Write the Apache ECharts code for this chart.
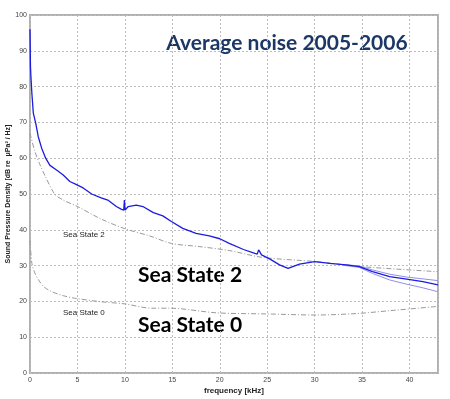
<!DOCTYPE html>
<html><head><meta charset="utf-8">
<script src="https://cdn.jsdelivr.net/npm/echarts@6/dist/echarts.min.js"></script>
<style>html,body{margin:0;padding:0;background:#fff}#c{width:450px;height:399px}</style>
</head><body><div id="c"></div>
<script>
// Measured average noise (blue)
const avgFreq  = [0, 0.02, 0.05, 0.1, 0.2, 0.35, 0.6, 0.87, 1.23, 1.65, 2.1, 2.8, 3.5, 4.2, 4.9, 5.6, 6.5, 7.5, 8.2, 9.1, 9.65, 9.88, 9.95, 10.02, 10.35, 11.2, 11.9, 13, 14, 14.9, 16.1, 17.5, 18.9, 20, 21, 22.5, 23.7, 23.95, 24.1, 24.4, 25.3, 26.3, 27.2, 28.4, 30, 31.6, 33.3, 34.7, 36.1, 37.9, 39.7, 41.4, 43];
const avgLevel = [96, 91.6, 85.5, 82.7, 78, 72.6, 69.8, 66, 62.8, 60, 58, 56.7, 55.3, 53.5, 52.6, 51.7, 50, 48.9, 48.3, 46.5, 45.7, 45.5, 48.3, 45.5, 46.5, 46.9, 46.5, 44.8, 43.9, 42.3, 40.4, 39, 38.3, 37.5, 36.2, 34.5, 33.4, 33.2, 34.4, 33, 31.8, 30.2, 29.2, 30.4, 31.1, 30.6, 30.2, 29.7, 28.3, 26.9, 26.2, 25.5, 24.6];
// Spread of the average (light blue)
const spreadFreq  = [33, 34.7, 36.1, 37.9, 39.7, 41.4, 43];
const spreadUpper = [30.3, 29.9, 28.8, 27.6, 26.8, 26.3, 25.8];
const spreadLower = [30.1, 29.5, 27.8, 26.0, 24.8, 23.8, 22.7];
// Reference curves
const ss2Freq  = [0, 0.5, 1, 1.6, 2.6, 3.5, 5, 7.5, 10, 12.6, 14.9, 17.9, 21, 24.5, 30.2, 35, 43];
const ss2Level = [67, 62, 58.5, 55, 50, 48.3, 46.5, 43, 40.3, 38.3, 36.2, 35.3, 34.2, 32.3, 31.1, 29.7, 28.3];
const ss0Freq  = [0, 0.2, 0.5, 0.9, 1.5, 2.3, 3.5, 4.7, 7.5, 10, 12.8, 14.7, 19.7, 24.9, 30.2, 34.4, 37.9, 43];
const ss0Level = [37, 30.6, 28, 26, 24, 22.7, 21.6, 20.9, 19.9, 19.3, 18.1, 18.1, 16.8, 16.5, 16.2, 16.6, 17.4, 18.6];
const xTicks = [0, 5, 10, 15, 20, 25, 30, 35, 40];
const yTicks = [0, 10, 20, 30, 40, 50, 60, 70, 80, 90, 100];

const pairs = (xs, ys) => xs.map((x, i) => [x, ys[i]]);
const chart = echarts.init(document.getElementById('c'));
const gridStyle = {color: '#bdbdbd', width: 1, type: [2, 2]};
chart.setOption({
  animation: false,
  grid: {left: 30, right: 12, top: 15, bottom: 26, containLabel: false, outerBoundsMode: 'none',
    show: true, borderColor: '#b0b0b0', borderWidth: 2, backgroundColor: '#fff'},
  xAxis: {
    type: 'value', min: 0, max: 43, interval: 5,
    name: 'frequency [kHz]', nameLocation: 'middle', nameGap: 14, nameMoveOverlap: false,
    nameTextStyle: {fontFamily: 'Liberation Sans', fontSize: 8, fontWeight: 'bold', color: '#222'},
    axisLine: {show: false}, axisTick: {show: false},
    axisLabel: {fontFamily: 'Liberation Sans', fontSize: 7, color: '#444', margin: 4, showMaxLabel: false,
      formatter: v => xTicks.includes(v) ? String(v) : ''},
    splitLine: {show: true, lineStyle: gridStyle}
  },
  yAxis: {
    type: 'value', min: 0, max: 100, interval: 10,
    name: 'Sound Pressure Density [dB re  μPa² / Hz]', nameLocation: 'middle', nameGap: 18, nameRotate: 90,
    nameMoveOverlap: false,
    nameTextStyle: {fontFamily: 'Liberation Sans', fontSize: 7, fontWeight: 'bold', color: '#222'},
    axisLine: {show: false}, axisTick: {show: false},
    axisLabel: {fontFamily: 'Liberation Sans', fontSize: 7, color: '#444', margin: 3,
      formatter: v => yTicks.includes(v) ? String(v) : ''},
    splitLine: {show: true, lineStyle: gridStyle}
  },
  series: [
    {type: 'line', data: pairs(ss2Freq, ss2Level), smooth: 0.3, symbol: 'none',
      lineStyle: {color: '#9a9a9a', width: 1, type: [5, 2, 1, 2]}},
    {type: 'line', data: pairs(ss0Freq, ss0Level), smooth: 0.3, symbol: 'none',
      lineStyle: {color: '#9a9a9a', width: 1, type: [5, 2, 1, 2]}},
    {type: 'line', data: pairs(spreadFreq, spreadUpper), symbol: 'none',
      lineStyle: {color: '#8f8ff0', width: 1}},
    {type: 'line', data: pairs(spreadFreq, spreadLower), symbol: 'none',
      lineStyle: {color: '#8f8ff0', width: 1}},
    {type: 'line', data: pairs(avgFreq, avgLevel), symbol: 'none',
      lineStyle: {color: '#1c1ce0', width: 1.3}}
  ],
  graphic: [
    {type: 'text', x: 287, y: 43, style: {text: 'Average noise 2005-2006', fill: '#1b3766',
      font: 'bold 21px Lato', textAlign: 'center', textVerticalAlign: 'middle'}},
    {type: 'text', x: 138, y: 275, style: {text: 'Sea State 2', fill: '#000',
      font: 'bold 21px Lato', textAlign: 'left', textVerticalAlign: 'middle'}},
    {type: 'text', x: 138, y: 325, style: {text: 'Sea State 0', fill: '#000',
      font: 'bold 21px Lato', textAlign: 'left', textVerticalAlign: 'middle'}},
    {type: 'text', x: 63, y: 235, style: {text: 'Sea State 2', fill: '#222',
      font: '8px "Liberation Sans"', textAlign: 'left', textVerticalAlign: 'middle'}},
    {type: 'text', x: 63, y: 313, style: {text: 'Sea State 0', fill: '#222',
      font: '8px "Liberation Sans"', textAlign: 'left', textVerticalAlign: 'middle'}}
  ]
});
</script></body></html>
